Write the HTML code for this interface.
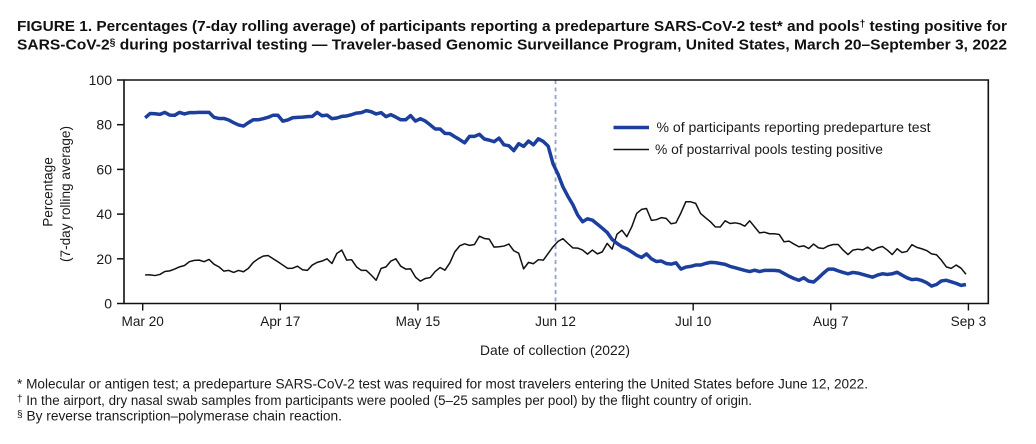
<!DOCTYPE html>
<html lang="en">
<head>
<meta charset="utf-8">
<title>Figure 1</title>
<style>
html,body{margin:0;padding:0;background:#fff;width:1036px;height:444px;overflow:hidden}
svg{display:block}
text{font-family:"Liberation Sans",sans-serif;fill:#1a1a1a}
.title{font-weight:bold;font-size:15px;fill:#111}
.note{font-size:13.5px}
.tick{font-size:14px}
.lab{font-size:13.6px}
.leg{font-size:13.5px}
</style>
</head>
<body>
<svg id="chart" width="1036" height="444" viewBox="0 0 1036 444" xmlns="http://www.w3.org/2000/svg">
<g>
<text class="title" x="17" y="31" textLength="990" lengthAdjust="spacingAndGlyphs">FIGURE 1. Percentages (7-day rolling average) of participants reporting a predeparture SARS-CoV-2 test* and pools<tspan dy="-4" font-size="10">†</tspan><tspan dy="4"> testing positive for</tspan></text>
<text class="title" x="17" y="49.5" textLength="990" lengthAdjust="spacingAndGlyphs">SARS-CoV-2<tspan dy="-4" font-size="10">§</tspan><tspan dy="4"> during postarrival testing — Traveler-based Genomic Surveillance Program, United States, March 20–September 3, 2022</tspan></text>
</g>
<g>
<text class="note" x="17" y="388.5" textLength="851" lengthAdjust="spacingAndGlyphs">* Molecular or antigen test; a predeparture SARS-CoV-2 test was required for most travelers entering the United States before June 12, 2022.</text>
<text class="note" x="17" y="405" textLength="735" lengthAdjust="spacingAndGlyphs"><tspan dy="-3" font-size="10">†</tspan><tspan dy="3"> In the airport, dry nasal swab samples from participants were pooled (5–25 samples per pool) by the flight country of origin.</tspan></text>
<text class="note" x="17" y="420.5" textLength="325" lengthAdjust="spacingAndGlyphs"><tspan dy="-3" font-size="10">§</tspan><tspan dy="3"> By reverse transcription–polymerase chain reaction.</tspan></text>
</g>
<g>
<text class="lab" transform="translate(52.5,192) rotate(-90)" text-anchor="middle">Percentage</text>
<text class="lab" transform="translate(70,194) rotate(-90)" text-anchor="middle" textLength="136" lengthAdjust="spacingAndGlyphs">(7-day rolling average)</text>
</g>
<text class="lab" x="555" y="355" text-anchor="middle" textLength="150" lengthAdjust="spacingAndGlyphs">Date of collection (2022)</text>
<g>
<line x1="613.5" x2="649" y1="127.5" y2="127.5" stroke="#1c3f9e" stroke-width="3.6"/>
<text class="leg" x="656.5" y="132" textLength="274" lengthAdjust="spacingAndGlyphs">% of participants reporting predeparture test</text>
<line x1="613.5" x2="649" y1="149.5" y2="149.5" stroke="#111" stroke-width="1.5"/>
<text class="leg" x="655" y="154" textLength="228" lengthAdjust="spacingAndGlyphs">% of postarrival pools testing positive</text>
</g>
</svg>
<script>
const yTicks = [0, 20, 40, 60, 80, 100];
const xTickDays = [0, 28, 56, 84, 112, 140, 168];
const xTickLabels = ["Mar 20", "Apr 17", "May 15", "Jun 12", "Jul 10", "Aug 7", "Sep 3"];
const policyChangeDay = 84;
const predeparture = [
83.1,85,84.9,84.6,85.5,84.3,84.2,85.5,84.8,85.4,85.4,85.5,85.5,85.5,83.3,82.8,82.8,82.1,80.9,79.9,
79.4,80.9,82.2,82.2,82.7,83.3,84.2,84.2,81.6,82.1,83.1,83.3,83.4,83.6,83.7,85.5,84,84.3,82.7,83,
83.7,83.9,84.5,85.2,85.4,86.3,85.8,84.8,85.4,83.6,84.5,83.4,82.2,82.2,84.1,81.6,82.7,81.6,79.9,78.1,
78.1,76.1,76,74.6,73.3,71.9,74.8,74.8,75.7,73.6,73.1,72.4,74,71,70.6,68.4,71.5,70.3,72.7,71,
73.7,72.5,70.4,62.4,57.9,52.2,48,44.3,39.6,36.6,37.9,37.3,35.5,33.7,31.8,28.7,26.9,25.4,24.5,23.1,
21.6,20.6,22.2,20,18.8,19,17.9,17.6,18.2,15.4,16.3,16.6,17.2,17.2,17.9,18.4,18.3,17.9,17.5,16.6,
16,15.4,14.8,14.3,14.9,14.3,14.8,14.8,14.8,14.6,13.4,12.2,11.2,10.4,11.5,10,9.6,11.5,13.6,15.4,
15.4,14.6,13.9,13.3,13.9,13.6,13,12.4,11.8,12.7,13.3,13,13.3,14,12.7,11.5,10.7,10.9,10.3,9.3,
7.8,8.5,10.1,10.4,9.7,9,8.1,8.5
];
const postarrival = [
12.8,12.8,12.5,13,14.3,14.6,15.4,16.4,17,18.7,19.3,19.4,18.7,19.7,17.6,16.4,14.5,14.8,13.9,14.8,
14.2,15.7,18.4,20,21.2,21.5,20.1,18.7,17.2,15.7,15.8,16.7,15.1,14.8,17.2,18.4,19,20,17.9,22.4,
23.9,19.4,19.6,16.4,14.8,14.8,12.7,10.4,15.7,16.4,19,20,16.7,15.4,15.5,11.8,10,11.2,11.6,14.3,
16.1,14.9,18.2,23.1,25.8,26.7,26,26.4,30.1,29.1,28.8,25.2,25.4,25.7,26.6,23.6,22.5,15.5,18.4,17.8,
19.6,19.4,22.4,25.4,27.8,29,26.9,24.9,24.8,23.9,22.1,23.9,22.2,23.1,26.9,24.3,31,32.8,29.9,34.3,
40.3,42.1,42.5,37.2,37.5,38.4,38.1,35.7,36.1,40.5,45.5,45.5,44.8,40.3,38.4,36.6,34.3,34.2,37,35.8,
36.1,35.7,34.6,37,34.3,31.6,31.9,31.2,31.2,30.9,27.6,27.9,26.6,25.4,25.8,24.6,26.6,24.9,24.6,25.8,
26.4,26.4,23.9,21.9,23.9,24.3,24,25.2,23.7,24.9,25.5,23.9,21.9,24.5,22.8,23.3,26.3,25.1,24.5,23.7,
22.2,21.8,19.4,16.4,15.7,17.2,15.8,13.1
];

const SVGNS = "http://www.w3.org/2000/svg";
const svg = document.getElementById("chart");
const plotLeft = 124, plotRight = 988.3, plotTop = 80, plotBottom = 303.5;
function xTick(d) { return 142.7 + d * 4.915; }
function xPoint(i) { return xTick(i + 0.5); }
function yScale(v) { return plotBottom - (v / 100) * (plotBottom - plotTop); }
function make(tag, attrs) {
  const el = document.createElementNS(SVGNS, tag);
  for (const k in attrs) el.setAttribute(k, attrs[k]);
  return el;
}
function seriesPath(values) {
  return values.map((v, i) => (i ? "L" : "M") + xPoint(i).toFixed(2) + " " + yScale(v).toFixed(2)).join(" ");
}

const refLine = make("line", { x1: xTick(policyChangeDay), x2: xTick(policyChangeDay), y1: plotTop, y2: plotBottom, stroke: "#97a0cf", "stroke-width": 1.8, "stroke-dasharray": "4 3.5" });


svg.appendChild(refLine);

const blue = make("path", { d: seriesPath(predeparture), fill: "none", stroke: "#1c3f9e", "stroke-width": 3.5, "stroke-linejoin": "round" });



const black = make("path", { d: seriesPath(postarrival), fill: "none", stroke: "#111", "stroke-width": 1.5, "stroke-linejoin": "round" });


svg.appendChild(black);
svg.appendChild(blue);

const frame = make("path", { d: `M${plotLeft} ${plotBottom} V${plotTop} H${plotRight} V${plotBottom} Z`, fill: "none", stroke: "#111", "stroke-width": 1.6 });


svg.appendChild(frame);

yTicks.forEach(function (t) {
  const tick = make("line", { x1: 117, x2: plotLeft, y1: yScale(t), y2: yScale(t), stroke: "#111", "stroke-width": 1.5 });
  
  
  svg.appendChild(tick);
  const label = make("text", { class: "tick", x: 112, y: yScale(t) + 5, "text-anchor": "end" });
  
  
  label.textContent = t;
  svg.appendChild(label);
});

xTickDays.forEach(function (d, i) {
  const tick = make("line", { x1: xTick(d), x2: xTick(d), y1: plotBottom, y2: 310.5, stroke: "#111", "stroke-width": 1.4 });
  
  
  svg.appendChild(tick);
  const label = make("text", { class: "lab", x: xTick(d), y: 326, "text-anchor": "middle" });
  
  
  label.textContent = xTickLabels[i];
  svg.appendChild(label);
});
</script>
</body>
</html>
